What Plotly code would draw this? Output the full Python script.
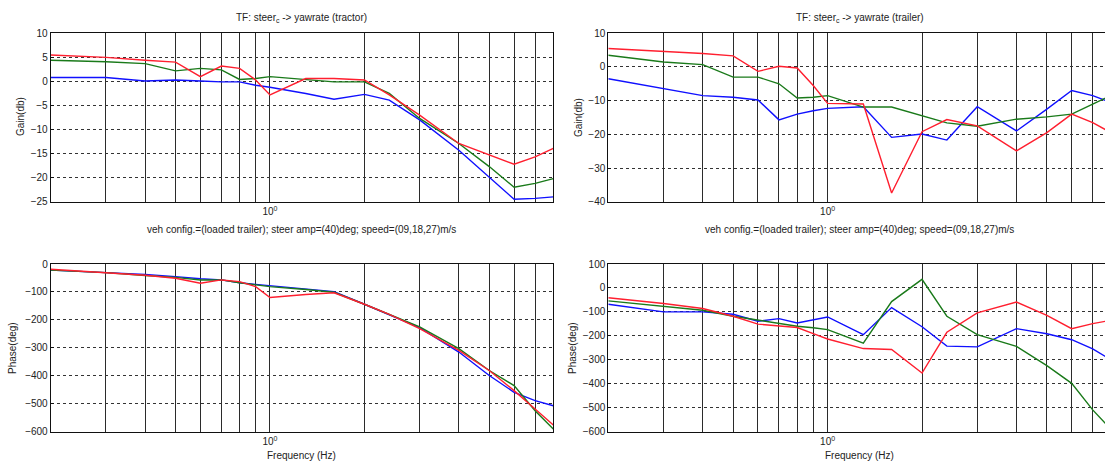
import numpy as np
import plotly.graph_objects as go

# ---------------- data ----------------
freq = [0.2, 0.3, 0.4, 0.5, 0.6, 0.7, 0.8, 0.9, 1.0, 1.3, 1.6, 2.0, 2.4, 3.0, 4.0, 5.0, 6.0, 7.0, 8.0]

tractor_gain_red = [5.5, 5.0, 4.4, 4.0, 1.0, 3.2, 2.7, 0.3, -2.8, 0.6, 0.6, 0.3, -2.8, -7.0, -12.9, -15.3, -17.2, -15.7, -13.9]
tractor_gain_green = [4.4, 4.1, 3.7, 2.2, 2.7, 2.4, 0.4, 0.6, 1.0, 0.4, -0.1, -0.1, -2.5, -7.7, -12.9, -17.7, -22.0, -21.2, -20.2]
tractor_gain_blue = [0.8, 0.8, 0.1, 0.3, 0.1, -0.1, -0.1, -0.8, -1.2, -2.5, -3.7, -2.7, -3.9, -8.0, -14.3, -19.8, -24.5, -24.3, -24.0]

tractor_phase_red = [-19, -31, -40, -51, -69, -57, -63, -81, -120, -109, -103, -144, -180, -231, -309, -381, -453, -519, -576]
tractor_phase_green = [-22, -31, -41, -48, -57, -57, -67, -75, -81, -91, -101, -144, -180, -225, -303, -381, -435, -525, -590]
tractor_phase_blue = [-22, -31, -37, -45, -53, -57, -67, -73, -78, -91, -99, -144, -182, -228, -315, -399, -459, -489, -507]

trailer_gain_red = [5.5, 4.7, 4.0, 3.3, -1.3, 0.2, -0.3, -5.5, -10.8, -11.0, -37.4, -19.2, -15.6, -17.5, -24.9, -19.5, -14.0, -16.5, -19.5]
trailer_gain_green = [3.5, 1.5, 0.7, -3.0, -3.0, -5.0, -9.2, -9.0, -8.5, -11.9, -11.9, -14.6, -16.6, -17.6, -15.5, -14.8, -14.0, -11.0, -8.5]
trailer_gain_blue = [-3.5, -6.3, -8.5, -9.0, -9.8, -15.7, -14.0, -13.0, -12.3, -11.8, -20.9, -19.9, -21.7, -11.8, -19.0, -12.5, -7.0, -8.5, -10.5]

trailer_phase_red = [-41, -65, -86, -118, -151, -160, -165, -191, -213, -253, -257, -355, -185, -104, -59, -114, -170, -149, -135]
trailer_phase_green = [-54, -76, -93, -118, -135, -149, -160, -166, -174, -230, -57, 36, -118, -195, -244, -324, -398, -509, -590]
trailer_phase_blue = [-68, -100, -100, -110, -139, -128, -146, -133, -121, -195, -82, -162, -243, -246, -170, -191, -216, -254, -300]

grid_freqs = [0.3, 0.4, 0.5, 0.6, 0.7, 0.8, 0.9, 1.0, 2.0, 3.0, 4.0, 5.0, 6.0, 7.0]
grid_labels = ["10<sup>0</sup>" if f == 1.0 else "" for f in grid_freqs]

title_tractor = "TF: steer<sub>c</sub> -> yawrate (tractor)"
title_trailer = "TF: steer<sub>c</sub> -> yawrate (trailer)"
subtitle = "veh config.=(loaded trailer); steer amp=(40)deg; speed=(09,18,27)m/s"
freq_label = "Frequency (Hz)"

RED, GREEN, BLUE = "#ff1f2f", "#1a7a1a", "#1010ff"

# ---------------- layout helpers ----------------
W, H = 1105, 466
FONT = "Liberation Sans, Arial, Helvetica, sans-serif"


def fx(x):
    return x / W


def fy(y):
    return 1 - y / H


left_dom = [fx(50.7), fx(553.3)]
right_dom = [fx(608.3), 1.0]
top_dom = [fy(201.7), fy(33.3)]
bot_dom = [fy(431.7), fy(264.0)]

# log range: left shows 0.2..8 ; right is cropped by the picture edge
left_range = [np.log10(0.2), np.log10(8.0)]
dec_px = (553.3 - 50.7) / (left_range[1] - left_range[0])
right_range = [np.log10(0.2), np.log10(0.2) + (W - 608.3) / dec_px]

fig = go.Figure()

panels = [
    ("x", "y", tractor_gain_blue, tractor_gain_green, tractor_gain_red),
    ("x2", "y2", trailer_gain_blue, trailer_gain_green, trailer_gain_red),
    ("x3", "y3", tractor_phase_blue, tractor_phase_green, tractor_phase_red),
    ("x4", "y4", trailer_phase_blue, trailer_phase_green, trailer_phase_red),
]
for xa, ya, b, g, r in panels:
    for vals, col in ((b, BLUE), (g, GREEN), (r, RED)):
        fig.add_trace(go.Scatter(x=freq, y=vals, mode="lines", xaxis=xa, yaxis=ya,
                                 line=dict(color=col, width=1.4), showlegend=False,
                                 hoverinfo="skip"))


def xcfg(domain, rng, anchor):
    return dict(type="log", domain=domain, range=rng, anchor=anchor,
                tickmode="array", tickvals=grid_freqs, ticktext=grid_labels,
                showgrid=True, gridcolor="#2b2b2b", gridwidth=1,
                showline=True, linecolor="#111", linewidth=1, mirror=True,
                ticks="", zeroline=False, automargin=False,
                tickfont=dict(family=FONT, size=10, color="#222"))


def ycfg(domain, rng, dtick, anchor, mirror=True):
    return dict(domain=domain, range=rng, anchor=anchor, dtick=dtick, tick0=0,
                showgrid=True, gridcolor="#333", griddash="dot", gridwidth=1,
                showline=True, linecolor="#111", linewidth=1, mirror=mirror,
                ticks="inside", ticklen=3, tickcolor="#111", zeroline=False,
                automargin=False,
                tickfont=dict(family=FONT, size=10, color="#222"))


fig.update_layout(
    width=W, height=H,
    margin=dict(l=0, r=0, t=0, b=0),
    paper_bgcolor="white", plot_bgcolor="white",
    font=dict(family=FONT, size=10, color="#222"),
    xaxis=xcfg(left_dom, left_range, "y"),
    yaxis=ycfg(top_dom, [-25, 10], 5, "x"),
    xaxis2=xcfg(right_dom, right_range, "y2"),
    yaxis2=ycfg(top_dom, [-40, 10], 10, "x2", mirror=False),
    xaxis3=xcfg(left_dom, left_range, "y3"),
    yaxis3=ycfg(bot_dom, [-600, 0], 100, "x3"),
    xaxis4=xcfg(right_dom, right_range, "y4"),
    yaxis4=ycfg(bot_dom, [-600, 100], 100, "x4", mirror=False),
)

left_c = (50.7 + 553.3) / 2
right_c = (608.3 + 608.3 + 502.6) / 2

ann = []


def text(x, y, s, angle=0, size=10):
    ann.append(dict(x=fx(x), y=fy(y), xref="paper", yref="paper", text=s, showarrow=False,
                    xanchor="center", yanchor="middle", textangle=angle,
                    font=dict(family=FONT, size=size, color="#222")))


text(left_c, 18, title_tractor)
text(right_c, 18, title_trailer)
text(left_c, 229, subtitle)
text(right_c, 229, subtitle)
text(left_c, 455, freq_label)
text(right_c, 455, freq_label)
text(20, 117, "Gain(db)", angle=-90)
text(578, 118, "Gain(db)", angle=-90)
text(12, 348, "Phase(deg)", angle=-90)
text(572, 348, "Phase(deg)", angle=-90)
fig.update_layout(annotations=ann)

fig.write_html("out.html")
